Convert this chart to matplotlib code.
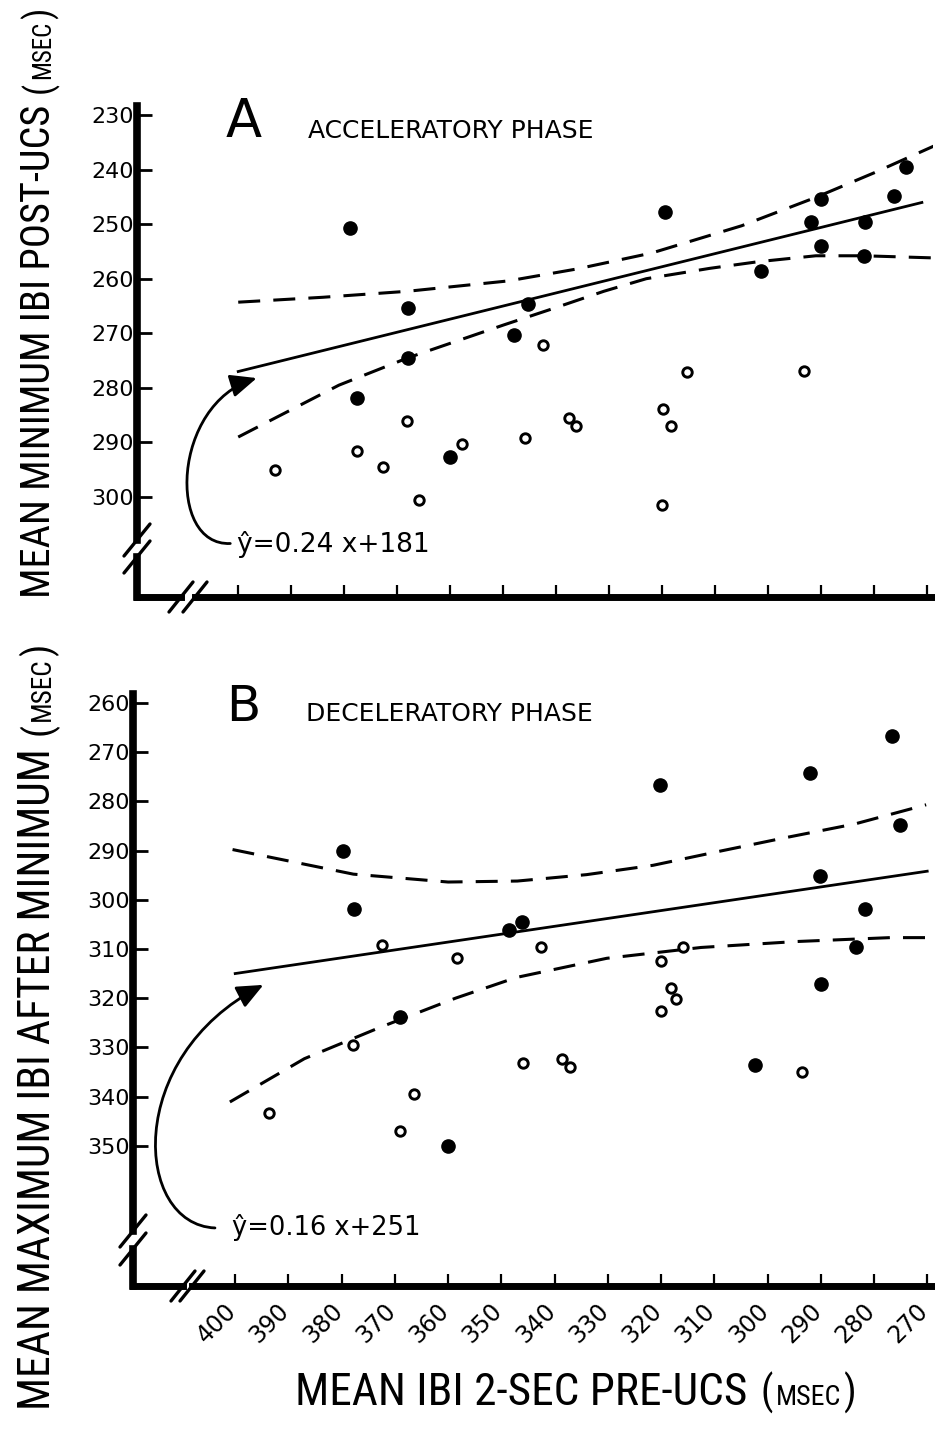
import matplotlib
matplotlib.use("Agg")
import matplotlib.pyplot as plt
from matplotlib import font_manager
from matplotlib.path import Path
from matplotlib.patches import FancyArrowPatch
from matplotlib.lines import Line2D

W, H = 935, 1431
plt.rcParams["font.family"] = ["DejaVu Sans"]

# shared x axis: mean IBI 2 s before the UCS (msec), drawn high -> low
x_ticks = [400, 390, 380, 370, 360, 350, 340, 330, 320, 310, 300, 290, 280, 270]
x_tick_labels = [str(v) for v in x_ticks]

# A: accelerative phase (minimum IBI after UCS)
a_y_ticks = [230, 240, 250, 260, 270, 280, 290, 300]
a_fill_x = [379.0, 368.0, 368.0, 377.5, 360.0, 348.0, 345.3, 319.4, 301.4, 292.0, 290.0, 290.0, 281.8, 282.0, 276.3, 274.0]
a_fill_y = [250.8, 265.3, 274.6, 281.8, 292.6, 270.3, 264.7, 247.8, 258.6, 249.6, 245.4, 254.1, 249.7, 255.8, 244.9, 239.5]
a_open_x = [393.0, 377.5, 372.7, 368.2, 365.9, 357.8, 345.9, 342.4, 337.5, 336.3, 319.9, 318.4, 320.0, 315.4, 293.3]
a_open_y = [295.1, 291.5, 294.4, 286.0, 300.5, 290.2, 289.1, 272.1, 285.5, 287.0, 283.9, 287.0, 301.4, 277.1, 276.9]
a_slope, a_intercept = 0.24, 181
a_fit_x = [400, 271]
a_upper_x = [400, 384, 368, 349, 336, 322, 305, 291, 280, 268.5]
a_upper_y = [264.3, 263.4, 262.3, 260.4, 258.2, 255.3, 250.3, 245.1, 240.6, 235.6]
a_lower_x = [400, 381, 368, 350, 341, 331, 323, 311, 302, 291, 282, 268.5]
a_lower_y = [289.0, 279.5, 274.5, 268.5, 265.6, 262.3, 260.0, 258.1, 256.9, 255.8, 255.8, 256.2]

# B: decelerative phase (maximum IBI after the minimum)
b_y_ticks = [260, 270, 280, 290, 300, 310, 320, 330, 340, 350]
b_fill_x = [379.7, 377.7, 369.0, 360.0, 348.6, 346.2, 320.2, 302.4, 292.1, 290.1, 290.0, 283.3, 281.7, 276.7, 275.1]
b_fill_y = [290.0, 301.8, 323.9, 350.0, 306.2, 304.6, 276.7, 333.5, 274.2, 295.2, 317.1, 309.7, 301.9, 266.8, 284.8]
b_open_x = [393.7, 377.8, 372.5, 369.0, 366.5, 358.4, 345.9, 342.5, 338.6, 337.1, 320.0, 320.0, 318.2, 317.1, 315.8, 293.5]
b_open_y = [343.3, 329.6, 309.1, 347.1, 339.5, 311.9, 333.1, 309.6, 332.3, 334.0, 312.5, 322.7, 318.0, 320.2, 309.7, 335.1]
b_slope, b_intercept = 0.16, 251
b_fit_x = [400, 270]
b_upper_x = [400.5, 377.8, 360.0, 347.0, 334.0, 321.5, 308.8, 296.7, 283.6, 270.2]
b_upper_y = [289.8, 294.8, 296.4, 296.2, 294.9, 293.0, 290.1, 287.4, 284.6, 280.7]
b_lower_x = [401.0, 387.0, 372.7, 358.6, 347.2, 330.2, 312.5, 294.7, 277.0, 269.0]
b_lower_y = [341.1, 332.3, 325.9, 320.0, 315.8, 311.9, 309.7, 308.5, 307.7, 307.7]

# a narrow face for the long axis titles, if one is installed
fonts = font_manager.fontManager.ttflist
names = {f.name for f in fonts}
label_font = {}
for cand in ["Liberation Sans Narrow", "DejaVu Sans Condensed", "Roboto Condensed", "Open Sans Condensed"]:
    if cand in names:
        label_font = {"family": cand}
        break
else:
    if any(f.name == "DejaVu Sans" and f.stretch == "condensed" for f in fonts):
        label_font = {"family": "DejaVu Sans", "stretch": "condensed"}

fig = plt.figure(figsize=(W / 100, H / 100), dpi=100)
renderer = fig.canvas.get_renderer()


def fpx(x, y):
    return x / W, 1 - y / H


def add_axes_px(left, top, right, bottom):
    return fig.add_axes([left / W, 1 - bottom / H, (right - left) / W, (bottom - top) / H])


def seg(pts, lw, cap="projecting"):
    xs = [p[0] / W for p in pts]
    ys = [1 - p[1] / H for p in pts]
    fig.add_artist(Line2D(xs, ys, lw=lw, color="black", solid_capstyle=cap))


def draw_frame(left, top, right, bottom, ygap, xgap):
    # heavy axes with a // break on each one
    seg([(left, top - 4), (left, bottom - ygap[1])], 5.5)
    seg([(left, bottom - ygap[0]), (left, bottom)], 5.5)
    seg([(left, bottom), (left + xgap[0], bottom)], 5)
    seg([(left + xgap[1], bottom), (right, bottom)], 5)
    for c in ygap:
        seg([(left - 13, bottom - c + 16), (left + 13, bottom - c - 16)], 2.4, "round")
    for c in xgap:
        seg([(left + c - 12, bottom + 15), (left + c + 12, bottom - 15)], 2.4, "round")


def panel(ax, xlim, ylim, yticks, fill_x, fill_y, open_x, open_y,
          slope, intercept, fit_x, up_x, up_y, lo_x, lo_y):
    ax.set_xlim(*xlim)
    ax.set_ylim(*ylim)
    ax.set_frame_on(False)
    ax.set_xticks(x_ticks)
    ax.set_xticklabels([])
    ax.set_yticks(yticks)
    ax.set_yticklabels([str(v) for v in yticks])
    ax.tick_params(axis="x", direction="in", length=8.5, width=1.6, bottom=True)
    ax.tick_params(axis="y", direction="in", length=11, width=2, labelsize=16, pad=2)
    fit_y = [slope * v + intercept for v in fit_x]
    ax.plot(fit_x, fit_y, color="black", lw=2, zorder=2)
    dash = (0, (7.2, 4.3))
    ax.plot(up_x, up_y, color="black", lw=2.2, ls=dash, zorder=2)
    ax.plot(lo_x, lo_y, color="black", lw=2.2, ls=dash, zorder=2)
    ax.plot(fill_x, fill_y, "o", ms=9.5, color="black", zorder=3, clip_on=False)
    ax.plot(open_x, open_y, "o", ms=6.8, mfc="white", mec="black", mew=2.1, zorder=3, clip_on=False)


def curved_arrow(ax, pts):
    path = Path(pts, [Path.MOVETO, Path.CURVE4, Path.CURVE4, Path.CURVE4])
    arr = FancyArrowPatch(path=path, arrowstyle="-|>,head_length=0.8,head_width=0.35",
                          mutation_scale=20, lw=2, color="black",
                          transform=ax.transData, clip_on=False, zorder=4)
    ax.add_patch(arr)


def stacked_label(x0, y0, length, main, vertical):
    # title text, then "(MSEC)" with small capitals on the baseline,
    # sized so the whole thing spans `length` pixels
    rot = 90 if vertical else 0
    size = 24.0
    for attempt in range(3):
        em = size * 100 / 72
        pieces = [(main, size, 0.3 * em), ("(", size * 0.88, 0.05 * em),
                  ("MSEC", size * 0.62, 0.06 * em), (")", size * 0.88, 0)]
        texts = []
        x, y = x0, y0
        for txt, fs, gap in pieces:
            t = fig.text(*fpx(x, y), txt, fontsize=fs, rotation=rot,
                         rotation_mode="anchor", ha="left", va="baseline", **label_font)
            texts.append(t)
            ext = t.get_window_extent(renderer)
            if vertical:
                y -= ext.height + gap
            else:
                x += ext.width + gap
        total = (y0 - y) if vertical else (x - x0)
        if attempt == 2 or abs(total - length) < 2:
            break
        for t in texts:
            t.remove()
        size *= length / total


# ---- panel A ----
axA = add_axes_px(137, 110, 933, 597)
panel(axA, (419.1, 268.9), (318.3, 229.1), a_y_ticks, a_fill_x, a_fill_y,
      a_open_x, a_open_y, a_slope, a_intercept, a_fit_x,
      a_upper_x, a_upper_y, a_lower_x, a_lower_y)
draw_frame(137, 110, 933, 597, (40, 57), (44, 58))
axA.text(400.2, 310.0, "ŷ=0.24 x+181", fontsize=19, ha="left", va="baseline")
curved_arrow(axA, [(401.5, 308.5), (413.5, 309), (412.5, 283), (396.5, 278.2)])
fig.text(*fpx(226, 137), "A", fontsize=38, ha="left", va="baseline")
fig.text(*fpx(308, 138), "ACCELERATORY PHASE", fontsize=18, ha="left", va="baseline")

# ---- panel B ----
axB = add_axes_px(133, 698, 932, 1286)
panel(axB, (419.2, 269.1), (378.5, 259.0), b_y_ticks, b_fill_x, b_fill_y,
      b_open_x, b_open_y, b_slope, b_intercept, b_fit_x,
      b_upper_x, b_upper_y, b_lower_x, b_lower_y)
draw_frame(133, 698, 932, 1286, (37, 55), (50, 59))
for v, lab in zip(x_ticks, x_tick_labels):
    axB.annotate(lab, xy=(v, 0), xycoords=("data", "axes fraction"),
                 xytext=(1.5, -19), textcoords="offset points", fontsize=17,
                 rotation=45, rotation_mode="anchor", ha="right", va="baseline")
axB.text(400.6, 368.1, "ŷ=0.16 x+251", fontsize=18.5, ha="left", va="baseline")
curved_arrow(axB, [(403.8, 366.7), (419, 366), (421, 332), (394.7, 317.3)])
fig.text(*fpx(226, 721), "B", fontsize=36, ha="left", va="baseline")
fig.text(*fpx(306, 721), "DECELERATORY PHASE", fontsize=18, ha="left", va="baseline")

# axis titles
stacked_label(50, 598, 591, "MEAN MINIMUM IBI POST-UCS", True)
stacked_label(50, 1410, 769, "MEAN MAXIMUM IBI AFTER MINIMUM", True)
stacked_label(295, 1405, 560, "MEAN IBI 2-SEC PRE-UCS", False)

fig.savefig("out.png", dpi=100)
